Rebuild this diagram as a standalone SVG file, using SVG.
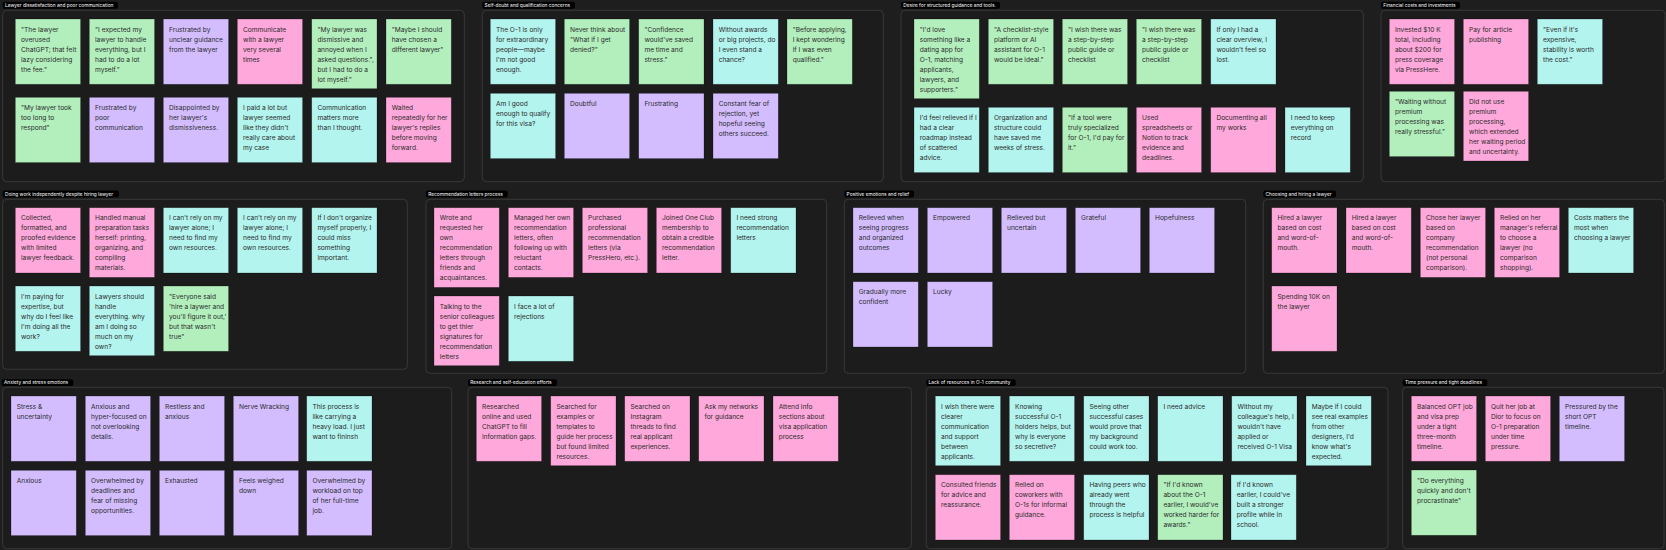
<svg xmlns="http://www.w3.org/2000/svg" width="1666" height="550" viewBox="0 0 1666 550">
<style>
.bg{fill:#1e1e1e}
.fr{fill:#1c1c1c;stroke:#404040;stroke-width:0.8}
.lb{fill:#000}
.lt{font-family:Inter,"Liberation Sans",sans-serif;font-size:4.8px;fill:#fff}
.s{stroke:rgba(0,0,0,0.35);stroke-width:0.7}
.g{fill:#b3efbd}.c{fill:#b3f4ef}.p{fill:#d3bdff}.k{fill:#ffa8db}
.t{font-family:Inter,"Liberation Sans",sans-serif;font-size:6.6px;fill:#2a2a2a}
</style>
<rect class="bg" x="0" y="0" width="1666" height="550"/>
<g id="connectors"/>

<!-- Group 1 -->
<g id="frame-lawyer-dissatisfaction">
<rect class="lb" x="2.7" y="1.7" width="115.3" height="7" rx="2"/>
<text class="lt" x="5" y="6.9">Lawyer dissatisfaction and poor communication</text>
<rect class="fr" x="2.7" y="10.3" width="461.6" height="171.4" rx="4"/>
</g>
<g id="n1a"><rect class="s g" x="15.3" y="19" width="65.3" height="65.3"/><text class="t" x="21" y="31.6"><tspan x="21">"The lawyer</tspan><tspan x="21" dy="10">overused</tspan><tspan x="21" dy="10">ChatGPT; that felt</tspan><tspan x="21" dy="10">lazy considering</tspan><tspan x="21" dy="10">the fee."</tspan></text></g>
<g id="n1b"><rect class="s g" x="89.3" y="19" width="65.3" height="65.3"/><text class="t" x="95" y="31.6"><tspan x="95">"I expected my</tspan><tspan x="95" dy="10">lawyer to handle</tspan><tspan x="95" dy="10">everything, but I</tspan><tspan x="95" dy="10">had to do a lot</tspan><tspan x="95" dy="10">myself."</tspan></text></g>
<g id="n1c"><rect class="s p" x="163.3" y="19" width="65.3" height="65.3"/><text class="t" x="169" y="31.6"><tspan x="169">Frustrated by</tspan><tspan x="169" dy="10">unclear guidance</tspan><tspan x="169" dy="10">from the lawyer</tspan></text></g>
<g id="n1d"><rect class="s k" x="237.3" y="19" width="65.3" height="65.3"/><text class="t" x="243" y="31.6"><tspan x="243">Communicate</tspan><tspan x="243" dy="10">with a lawyer</tspan><tspan x="243" dy="10">very several</tspan><tspan x="243" dy="10">times</tspan></text></g>
<g id="n1e"><rect class="s g" x="311.7" y="19" width="65.3" height="69.7"/><text class="t" x="317.4" y="31.6"><tspan x="317.4">"My lawyer was</tspan><tspan x="317.4" dy="10">dismissive and</tspan><tspan x="317.4" dy="10">annoyed when I</tspan><tspan x="317.4" dy="10">asked questions.",</tspan><tspan x="317.4" dy="10">but I had to do a</tspan><tspan x="317.4" dy="10">lot myself."</tspan></text></g>
<g id="n1f"><rect class="s g" x="386" y="19" width="65.3" height="65.3"/><text class="t" x="391.7" y="31.6"><tspan x="391.7">"Maybe I should</tspan><tspan x="391.7" dy="10">have chosen a</tspan><tspan x="391.7" dy="10">different lawyer"</tspan></text></g>
<g id="n1g"><rect class="s g" x="15.3" y="97.3" width="65.3" height="65.3"/><text class="t" x="21" y="109.9"><tspan x="21">"My lawyer took</tspan><tspan x="21" dy="10">too long to</tspan><tspan x="21" dy="10">respond"</tspan></text></g>
<g id="n1h"><rect class="s p" x="89.3" y="97.3" width="65.3" height="65.3"/><text class="t" x="95" y="109.9"><tspan x="95">Frustrated by</tspan><tspan x="95" dy="10">poor</tspan><tspan x="95" dy="10">communication</tspan></text></g>
<g id="n1i"><rect class="s p" x="163.3" y="97.3" width="65.3" height="65.3"/><text class="t" x="169" y="109.9"><tspan x="169">Disappointed by</tspan><tspan x="169" dy="10">her lawyer's</tspan><tspan x="169" dy="10">dismissiveness.</tspan></text></g>
<g id="n1j"><rect class="s c" x="237.3" y="97.3" width="65.3" height="65.3"/><text class="t" x="243" y="109.9"><tspan x="243">I paid a lot but</tspan><tspan x="243" dy="10">lawyer seemed</tspan><tspan x="243" dy="10">like they didn't</tspan><tspan x="243" dy="10">really care about</tspan><tspan x="243" dy="10">my case</tspan></text></g>
<g id="n1k"><rect class="s c" x="311.7" y="97.3" width="65.3" height="65.3"/><text class="t" x="317.4" y="109.9"><tspan x="317.4">Communication</tspan><tspan x="317.4" dy="10">matters more</tspan><tspan x="317.4" dy="10">than I thought.</tspan></text></g>
<g id="n1l"><rect class="s k" x="386" y="97.3" width="65.3" height="65.3"/><text class="t" x="391.7" y="109.9"><tspan x="391.7">Waited</tspan><tspan x="391.7" dy="10">repeatedly for her</tspan><tspan x="391.7" dy="10">lawyer's replies</tspan><tspan x="391.7" dy="10">before moving</tspan><tspan x="391.7" dy="10">forward.</tspan></text></g>

<!-- Group 2 -->
<g id="frame-self-doubt">
<rect class="lb" x="482.3" y="1.7" width="92.7" height="7" rx="2"/>
<text class="lt" x="484.6" y="6.9">Self-doubt and qualification concerns</text>
<rect class="fr" x="482.3" y="10.3" width="401" height="171.4" rx="4"/>
</g>
<g id="n2a"><rect class="s c" x="490.3" y="19" width="65.3" height="65.3"/><text class="t" x="496" y="31.6"><tspan x="496">The O-1 is only</tspan><tspan x="496" dy="10">for extraordinary</tspan><tspan x="496" dy="10">people—maybe</tspan><tspan x="496" dy="10">I'm not good</tspan><tspan x="496" dy="10">enough.</tspan></text></g>
<g id="n2b"><rect class="s g" x="564.3" y="19" width="65.3" height="65.3"/><text class="t" x="570" y="31.6"><tspan x="570">Never think about</tspan><tspan x="570" dy="10">"What if I get</tspan><tspan x="570" dy="10">denied?"</tspan></text></g>
<g id="n2c"><rect class="s g" x="638.7" y="19" width="65.3" height="65.3"/><text class="t" x="644.4" y="31.6"><tspan x="644.4">"Confidence</tspan><tspan x="644.4" dy="10">would've saved</tspan><tspan x="644.4" dy="10">me time and</tspan><tspan x="644.4" dy="10">stress."</tspan></text></g>
<g id="n2d"><rect class="s c" x="713" y="19" width="65.3" height="65.3"/><text class="t" x="718.7" y="31.6"><tspan x="718.7">Without awards</tspan><tspan x="718.7" dy="10">or big projects, do</tspan><tspan x="718.7" dy="10">I even stand a</tspan><tspan x="718.7" dy="10">chance?</tspan></text></g>
<g id="n2e"><rect class="s g" x="787" y="19" width="65.3" height="65.3"/><text class="t" x="792.7" y="31.6"><tspan x="792.7">"Before applying,</tspan><tspan x="792.7" dy="10">I kept wondering</tspan><tspan x="792.7" dy="10">if I was even</tspan><tspan x="792.7" dy="10">qualified."</tspan></text></g>
<g id="n2f"><rect class="s c" x="490.3" y="93.3" width="65.3" height="65.3"/><text class="t" x="496" y="105.9"><tspan x="496">Am I good</tspan><tspan x="496" dy="10">enough to qualify</tspan><tspan x="496" dy="10">for this visa?</tspan></text></g>
<g id="n2g"><rect class="s p" x="564.3" y="93.3" width="65.3" height="65.3"/><text class="t" x="570" y="105.9">Doubtful</text></g>
<g id="n2h"><rect class="s p" x="638.7" y="93.3" width="65.3" height="65.3"/><text class="t" x="644.4" y="105.9">Frustrating</text></g>
<g id="n2i"><rect class="s p" x="713" y="93.3" width="65.3" height="65.3"/><text class="t" x="718.7" y="105.9"><tspan x="718.7">Constant fear of</tspan><tspan x="718.7" dy="10">rejection, yet</tspan><tspan x="718.7" dy="10">hopeful seeing</tspan><tspan x="718.7" dy="10">others succeed.</tspan></text></g>

<!-- Group 3 -->
<g id="frame-structured-guidance">
<rect class="lb" x="901" y="1.7" width="99" height="7" rx="2"/>
<text class="lt" x="903.3" y="6.9">Desire for structured guidance and tools.</text>
<rect class="fr" x="901" y="10.3" width="462.3" height="171.4" rx="4"/>
</g>
<g id="n3a"><rect class="s g" x="914" y="19" width="65.3" height="79.7"/><text class="t" x="919.7" y="31.6"><tspan x="919.7">"I'd love</tspan><tspan x="919.7" dy="10">something like a</tspan><tspan x="919.7" dy="10">dating app for</tspan><tspan x="919.7" dy="10">O-1, matching</tspan><tspan x="919.7" dy="10">applicants,</tspan><tspan x="919.7" dy="10">lawyers, and</tspan><tspan x="919.7" dy="10">supporters."</tspan></text></g>
<g id="n3b"><rect class="s g" x="988.3" y="19" width="65.3" height="65.3"/><text class="t" x="994" y="31.6"><tspan x="994">"A checklist-style</tspan><tspan x="994" dy="10">platform or AI</tspan><tspan x="994" dy="10">assistant for O-1</tspan><tspan x="994" dy="10">would be ideal."</tspan></text></g>
<g id="n3c"><rect class="s g" x="1062.3" y="19" width="65.3" height="65.3"/><text class="t" x="1068" y="31.6"><tspan x="1068">"I wish there was</tspan><tspan x="1068" dy="10">a step-by-step</tspan><tspan x="1068" dy="10">public guide or</tspan><tspan x="1068" dy="10">checklist</tspan></text></g>
<g id="n3d"><rect class="s g" x="1136.3" y="19" width="65.3" height="65.3"/><text class="t" x="1142" y="31.6"><tspan x="1142">"I wish there was</tspan><tspan x="1142" dy="10">a step-by-step</tspan><tspan x="1142" dy="10">public guide or</tspan><tspan x="1142" dy="10">checklist</tspan></text></g>
<g id="n3e"><rect class="s c" x="1210.7" y="19" width="65.3" height="65.3"/><text class="t" x="1216.4" y="31.6"><tspan x="1216.4">If only I had a</tspan><tspan x="1216.4" dy="10">clear overview, I</tspan><tspan x="1216.4" dy="10">wouldn't feel so</tspan><tspan x="1216.4" dy="10">lost.</tspan></text></g>
<g id="n3f"><rect class="s c" x="914" y="107.3" width="65.3" height="65.3"/><text class="t" x="919.7" y="119.9"><tspan x="919.7">I'd feel relieved if I</tspan><tspan x="919.7" dy="10">had a clear</tspan><tspan x="919.7" dy="10">roadmap instead</tspan><tspan x="919.7" dy="10">of scattered</tspan><tspan x="919.7" dy="10">advice.</tspan></text></g>
<g id="n3g"><rect class="s c" x="988.3" y="107.3" width="65.3" height="65.3"/><text class="t" x="994" y="119.9"><tspan x="994">Organization and</tspan><tspan x="994" dy="10">structure could</tspan><tspan x="994" dy="10">have saved me</tspan><tspan x="994" dy="10">weeks of stress.</tspan></text></g>
<g id="n3h"><rect class="s g" x="1062.3" y="107.3" width="65.3" height="65.3"/><text class="t" x="1068" y="119.9"><tspan x="1068">"If a tool were</tspan><tspan x="1068" dy="10">truly specialized</tspan><tspan x="1068" dy="10">for O-1, I'd pay for</tspan><tspan x="1068" dy="10">it."</tspan></text></g>
<g id="n3i"><rect class="s k" x="1136.3" y="107.3" width="65.3" height="65.3"/><text class="t" x="1142" y="119.9"><tspan x="1142">Used</tspan><tspan x="1142" dy="10">spreadsheets or</tspan><tspan x="1142" dy="10">Notion to track</tspan><tspan x="1142" dy="10">evidence and</tspan><tspan x="1142" dy="10">deadlines.</tspan></text></g>
<g id="n3j"><rect class="s k" x="1210.7" y="107.3" width="65.3" height="65.3"/><text class="t" x="1216.4" y="119.9"><tspan x="1216.4">Documenting all</tspan><tspan x="1216.4" dy="10">my works</tspan></text></g>
<g id="n3k"><rect class="s c" x="1285" y="107.3" width="65.3" height="65.3"/><text class="t" x="1290.7" y="119.9"><tspan x="1290.7">I need to keep</tspan><tspan x="1290.7" dy="10">everything on</tspan><tspan x="1290.7" dy="10">record</tspan></text></g>

<!-- Group 4 -->
<g id="frame-financial">
<rect class="lb" x="1381" y="1.7" width="79" height="7" rx="2"/>
<text class="lt" x="1383.3" y="6.9">Financial costs and investments</text>
<rect class="fr" x="1381" y="10.3" width="284" height="171.4" rx="4"/>
</g>
<g id="n4a"><rect class="s k" x="1389.3" y="19" width="65.3" height="65.3"/><text class="t" x="1395" y="31.6"><tspan x="1395">Invested $10 K</tspan><tspan x="1395" dy="10">total, including</tspan><tspan x="1395" dy="10">about $200 for</tspan><tspan x="1395" dy="10">press coverage</tspan><tspan x="1395" dy="10">via PressHere.</tspan></text></g>
<g id="n4b"><rect class="s k" x="1463.3" y="19" width="65.3" height="65.3"/><text class="t" x="1469" y="31.6"><tspan x="1469">Pay for article</tspan><tspan x="1469" dy="10">publishing</tspan></text></g>
<g id="n4c"><rect class="s c" x="1537.3" y="19" width="65.3" height="65.3"/><text class="t" x="1543" y="31.6"><tspan x="1543">"Even if it's</tspan><tspan x="1543" dy="10">expensive,</tspan><tspan x="1543" dy="10">stability is worth</tspan><tspan x="1543" dy="10">the cost."</tspan></text></g>
<g id="n4d"><rect class="s g" x="1389.3" y="91.3" width="65.3" height="65.3"/><text class="t" x="1395" y="103.9"><tspan x="1395">"Waiting without</tspan><tspan x="1395" dy="10">premium</tspan><tspan x="1395" dy="10">processing was</tspan><tspan x="1395" dy="10">really stressful."</tspan></text></g>
<g id="n4e"><rect class="s k" x="1463.3" y="91.3" width="65.3" height="69.7"/><text class="t" x="1469" y="103.9"><tspan x="1469">Did not use</tspan><tspan x="1469" dy="10">premium</tspan><tspan x="1469" dy="10">processing,</tspan><tspan x="1469" dy="10">which extended</tspan><tspan x="1469" dy="10">her waiting period</tspan><tspan x="1469" dy="10">and uncertainty.</tspan></text></g>

<!-- Group 5 -->
<g id="frame-independent-work">
<rect class="lb" x="2.7" y="190.5" width="116.3" height="7" rx="2"/>
<text class="lt" x="5" y="195.7">Doing work independently despite hiring lawyer</text>
<rect class="fr" x="2.7" y="199.3" width="404.6" height="170" rx="4"/>
</g>
<g id="n5a"><rect class="s k" x="15.3" y="207.7" width="65.3" height="65.3"/><text class="t" x="21" y="220.3"><tspan x="21">Collected,</tspan><tspan x="21" dy="10">formatted, and</tspan><tspan x="21" dy="10">proofed evidence</tspan><tspan x="21" dy="10">with limited</tspan><tspan x="21" dy="10">lawyer feedback.</tspan></text></g>
<g id="n5b"><rect class="s k" x="89.3" y="207.7" width="65.3" height="69.7"/><text class="t" x="95" y="220.3"><tspan x="95">Handled manual</tspan><tspan x="95" dy="10">preparation tasks</tspan><tspan x="95" dy="10">herself: printing,</tspan><tspan x="95" dy="10">organizing, and</tspan><tspan x="95" dy="10">compiling</tspan><tspan x="95" dy="10">materials.</tspan></text></g>
<g id="n5c"><rect class="s c" x="163.3" y="207.7" width="65.3" height="65.3"/><text class="t" x="169" y="220.3"><tspan x="169">I can't rely on my</tspan><tspan x="169" dy="10">lawyer alone; I</tspan><tspan x="169" dy="10">need to find my</tspan><tspan x="169" dy="10">own resources.</tspan></text></g>
<g id="n5d"><rect class="s c" x="237.3" y="207.7" width="65.3" height="65.3"/><text class="t" x="243" y="220.3"><tspan x="243">I can't rely on my</tspan><tspan x="243" dy="10">lawyer alone; I</tspan><tspan x="243" dy="10">need to find my</tspan><tspan x="243" dy="10">own resources.</tspan></text></g>
<g id="n5e"><rect class="s c" x="311.7" y="207.7" width="65.3" height="65.3"/><text class="t" x="317.4" y="220.3"><tspan x="317.4">If I don't organize</tspan><tspan x="317.4" dy="10">myself properly, I</tspan><tspan x="317.4" dy="10">could miss</tspan><tspan x="317.4" dy="10">something</tspan><tspan x="317.4" dy="10">important.</tspan></text></g>
<g id="n5f"><rect class="s c" x="15.3" y="286" width="65.3" height="65.3"/><text class="t" x="21" y="298.6"><tspan x="21">I'm paying for</tspan><tspan x="21" dy="10">expertise, but</tspan><tspan x="21" dy="10">why do I feel like</tspan><tspan x="21" dy="10">I'm doing all the</tspan><tspan x="21" dy="10">work?</tspan></text></g>
<g id="n5g"><rect class="s c" x="89.3" y="286" width="65.3" height="69.7"/><text class="t" x="95" y="298.6"><tspan x="95">Lawyers should</tspan><tspan x="95" dy="10">handle</tspan><tspan x="95" dy="10">everything. why</tspan><tspan x="95" dy="10">am I doing so</tspan><tspan x="95" dy="10">much on my</tspan><tspan x="95" dy="10">own?</tspan></text></g>
<g id="n5h"><rect class="s g" x="163.3" y="286" width="65.3" height="65.3"/><text class="t" x="169" y="298.6"><tspan x="169">"Everyone said</tspan><tspan x="169" dy="10">'hire a laywer and</tspan><tspan x="169" dy="10">you'll figure it out,'</tspan><tspan x="169" dy="10">but that wasn't</tspan><tspan x="169" dy="10">true"</tspan></text></g>

<!-- Group 6 -->
<g id="frame-recommendation-letters">
<rect class="lb" x="426" y="190.5" width="81.7" height="7" rx="2"/>
<text class="lt" x="428.3" y="195.7">Recommendation letters process</text>
<rect class="fr" x="426" y="199.3" width="400.7" height="174" rx="4"/>
</g>
<g id="n6a"><rect class="s k" x="434" y="207.7" width="65.3" height="79.7"/><text class="t" x="439.7" y="220.3"><tspan x="439.7">Wrote and</tspan><tspan x="439.7" dy="10">requested her</tspan><tspan x="439.7" dy="10">own</tspan><tspan x="439.7" dy="10">recommendation</tspan><tspan x="439.7" dy="10">letters through</tspan><tspan x="439.7" dy="10">friends and</tspan><tspan x="439.7" dy="10">acquaintances.</tspan></text></g>
<g id="n6b"><rect class="s k" x="508.3" y="207.7" width="65.3" height="69.7"/><text class="t" x="514" y="220.3"><tspan x="514">Managed her own</tspan><tspan x="514" dy="10">recommendation</tspan><tspan x="514" dy="10">letters, often</tspan><tspan x="514" dy="10">following up with</tspan><tspan x="514" dy="10">reluctant</tspan><tspan x="514" dy="10">contacts.</tspan></text></g>
<g id="n6c"><rect class="s k" x="582.3" y="207.7" width="65.3" height="65.3"/><text class="t" x="588" y="220.3"><tspan x="588">Purchased</tspan><tspan x="588" dy="10">professional</tspan><tspan x="588" dy="10">recommendation</tspan><tspan x="588" dy="10">letters (via</tspan><tspan x="588" dy="10">PressHero, etc.).</tspan></text></g>
<g id="n6d"><rect class="s k" x="656.3" y="207.7" width="65.3" height="65.3"/><text class="t" x="662" y="220.3"><tspan x="662">Joined One Club</tspan><tspan x="662" dy="10">membership to</tspan><tspan x="662" dy="10">obtain a credible</tspan><tspan x="662" dy="10">recommendation</tspan><tspan x="662" dy="10">letter.</tspan></text></g>
<g id="n6e"><rect class="s c" x="730.7" y="207.7" width="65.3" height="65.3"/><text class="t" x="736.4" y="220.3"><tspan x="736.4">I need strong</tspan><tspan x="736.4" dy="10">recommendation</tspan><tspan x="736.4" dy="10">letters</tspan></text></g>
<g id="n6f"><rect class="s k" x="434" y="296" width="65.3" height="69.7"/><text class="t" x="439.7" y="308.6"><tspan x="439.7">Talking to the</tspan><tspan x="439.7" dy="10">senior colleagues</tspan><tspan x="439.7" dy="10">to get thier</tspan><tspan x="439.7" dy="10">signatures for</tspan><tspan x="439.7" dy="10">recommendation</tspan><tspan x="439.7" dy="10">letters</tspan></text></g>
<g id="n6g"><rect class="s c" x="508.3" y="296" width="65.3" height="65.3"/><text class="t" x="514" y="308.6"><tspan x="514">I face a lot of</tspan><tspan x="514" dy="10">rejections</tspan></text></g>

<!-- Group 7 -->
<g id="frame-positive-emotions">
<rect class="lb" x="844.3" y="190.5" width="69.7" height="7" rx="2"/>
<text class="lt" x="846.6" y="195.7">Positive emotions and relief</text>
<rect class="fr" x="844.3" y="199.3" width="401.4" height="174" rx="4"/>
</g>
<g id="n7a"><rect class="s p" x="853" y="207.7" width="65.3" height="65.3"/><text class="t" x="858.7" y="220.3"><tspan x="858.7">Relieved when</tspan><tspan x="858.7" dy="10">seeing progress</tspan><tspan x="858.7" dy="10">and organized</tspan><tspan x="858.7" dy="10">outcomes</tspan></text></g>
<g id="n7b"><rect class="s p" x="927.3" y="207.7" width="65.3" height="65.3"/><text class="t" x="933" y="220.3">Empowered</text></g>
<g id="n7c"><rect class="s p" x="1001.3" y="207.7" width="65.3" height="65.3"/><text class="t" x="1007" y="220.3"><tspan x="1007">Relieved but</tspan><tspan x="1007" dy="10">uncertain</tspan></text></g>
<g id="n7d"><rect class="s p" x="1075.3" y="207.7" width="65.3" height="65.3"/><text class="t" x="1081" y="220.3">Grateful</text></g>
<g id="n7e"><rect class="s p" x="1149.3" y="207.7" width="65.3" height="65.3"/><text class="t" x="1155" y="220.3">Hopefulness</text></g>
<g id="n7f"><rect class="s p" x="853" y="281.7" width="65.3" height="65.3"/><text class="t" x="858.7" y="294.3"><tspan x="858.7">Gradually more</tspan><tspan x="858.7" dy="10">confident</tspan></text></g>
<g id="n7g"><rect class="s p" x="927.3" y="281.7" width="65.3" height="65.3"/><text class="t" x="933" y="294.3">Lucky</text></g>

<!-- Group 8 -->
<g id="frame-choosing-lawyer">
<rect class="lb" x="1263.3" y="190.5" width="72.7" height="7" rx="2"/>
<text class="lt" x="1265.6" y="195.7">Choosing and hiring a lawyer</text>
<rect class="fr" x="1263.3" y="199.3" width="401" height="174" rx="4"/>
</g>
<g id="n8a"><rect class="s k" x="1271.7" y="207.7" width="65.3" height="65.3"/><text class="t" x="1277.4" y="220.3"><tspan x="1277.4">Hired a lawyer</tspan><tspan x="1277.4" dy="10">based on cost</tspan><tspan x="1277.4" dy="10">and word-of-</tspan><tspan x="1277.4" dy="10">mouth.</tspan></text></g>
<g id="n8b"><rect class="s k" x="1346" y="207.7" width="65.3" height="65.3"/><text class="t" x="1351.7" y="220.3"><tspan x="1351.7">Hired a lawyer</tspan><tspan x="1351.7" dy="10">based on cost</tspan><tspan x="1351.7" dy="10">and word-of-</tspan><tspan x="1351.7" dy="10">mouth.</tspan></text></g>
<g id="n8c"><rect class="s k" x="1420.3" y="207.7" width="65.3" height="69.7"/><text class="t" x="1426" y="220.3"><tspan x="1426">Chose her lawyer</tspan><tspan x="1426" dy="10">based on</tspan><tspan x="1426" dy="10">company</tspan><tspan x="1426" dy="10">recommendation</tspan><tspan x="1426" dy="10">(not personal</tspan><tspan x="1426" dy="10">comparison).</tspan></text></g>
<g id="n8d"><rect class="s k" x="1494.3" y="207.7" width="65.3" height="69.7"/><text class="t" x="1500" y="220.3"><tspan x="1500">Relied on her</tspan><tspan x="1500" dy="10">manager's referral</tspan><tspan x="1500" dy="10">to choose a</tspan><tspan x="1500" dy="10">lawyer (no</tspan><tspan x="1500" dy="10">comparison</tspan><tspan x="1500" dy="10">shopping).</tspan></text></g>
<g id="n8e"><rect class="s c" x="1568.3" y="207.7" width="65.3" height="65.3"/><text class="t" x="1574" y="220.3"><tspan x="1574">Costs matters the</tspan><tspan x="1574" dy="10">most when</tspan><tspan x="1574" dy="10">choosing a lawyer</tspan></text></g>
<g id="n8f"><rect class="s k" x="1271.7" y="286" width="65.3" height="65.3"/><text class="t" x="1277.4" y="298.6"><tspan x="1277.4">Spending 10K on</tspan><tspan x="1277.4" dy="10">the lawyer</tspan></text></g>

<!-- Group 9 -->
<g id="frame-anxiety">
<rect class="lb" x="1.7" y="379.3" width="71.6" height="6.6" rx="2"/>
<text class="lt" x="4" y="384.3">Anxiety and stress emotions</text>
<rect class="fr" x="2.7" y="387.3" width="449" height="161.4" rx="4"/>
</g>
<g id="n9a"><rect class="s p" x="11" y="396" width="65.3" height="65.3"/><text class="t" x="16.7" y="408.6"><tspan x="16.7">Stress &amp;</tspan><tspan x="16.7" dy="10">uncertainty</tspan></text></g>
<g id="n9b"><rect class="s p" x="85.3" y="396" width="65.3" height="65.3"/><text class="t" x="91" y="408.6"><tspan x="91">Anxious and</tspan><tspan x="91" dy="10">hyper-focused on</tspan><tspan x="91" dy="10">not overlooking</tspan><tspan x="91" dy="10">details.</tspan></text></g>
<g id="n9c"><rect class="s p" x="159.3" y="396" width="65.3" height="65.3"/><text class="t" x="165" y="408.6"><tspan x="165">Restless and</tspan><tspan x="165" dy="10">anxious</tspan></text></g>
<g id="n9d"><rect class="s p" x="233.3" y="396" width="65.3" height="65.3"/><text class="t" x="239" y="408.6">Nerve Wracking</text></g>
<g id="n9e"><rect class="s c" x="306.7" y="396" width="65.3" height="65.3"/><text class="t" x="312.4" y="408.6"><tspan x="312.4">This process is</tspan><tspan x="312.4" dy="10">like carrying a</tspan><tspan x="312.4" dy="10">heavy load. I just</tspan><tspan x="312.4" dy="10">want to fininsh</tspan></text></g>
<g id="n9f"><rect class="s p" x="11" y="470.3" width="65.3" height="65.3"/><text class="t" x="16.7" y="482.9">Anxious</text></g>
<g id="n9g"><rect class="s p" x="85.3" y="470.3" width="65.3" height="65.3"/><text class="t" x="91" y="482.9"><tspan x="91">Overwhelmed by</tspan><tspan x="91" dy="10">deadlines and</tspan><tspan x="91" dy="10">fear of missing</tspan><tspan x="91" dy="10">opportunities.</tspan></text></g>
<g id="n9h"><rect class="s p" x="159.3" y="470.3" width="65.3" height="65.3"/><text class="t" x="165" y="482.9">Exhausted</text></g>
<g id="n9i"><rect class="s p" x="233.3" y="470.3" width="65.3" height="65.3"/><text class="t" x="239" y="482.9"><tspan x="239">Feels weighed</tspan><tspan x="239" dy="10">down</tspan></text></g>
<g id="n9j"><rect class="s p" x="306.7" y="470.3" width="65.3" height="65.3"/><text class="t" x="312.4" y="482.9"><tspan x="312.4">Overwhelmed by</tspan><tspan x="312.4" dy="10">workload on top</tspan><tspan x="312.4" dy="10">of her full-time</tspan><tspan x="312.4" dy="10">job.</tspan></text></g>

<!-- Group 10 -->
<g id="frame-research">
<rect class="lb" x="468" y="379.3" width="89" height="6.6" rx="2"/>
<text class="lt" x="470.3" y="384.3">Research and self-education efforts</text>
<rect class="fr" x="468" y="387.3" width="443.3" height="161.4" rx="4"/>
</g>
<g id="n10a"><rect class="s k" x="476.3" y="396" width="65.3" height="65.3"/><text class="t" x="482" y="408.6"><tspan x="482">Researched</tspan><tspan x="482" dy="10">online and used</tspan><tspan x="482" dy="10">ChatGPT to fill</tspan><tspan x="482" dy="10">information gaps.</tspan></text></g>
<g id="n10b"><rect class="s k" x="550.7" y="396" width="65.3" height="69.7"/><text class="t" x="556.4" y="408.6"><tspan x="556.4">Searched for</tspan><tspan x="556.4" dy="10">examples or</tspan><tspan x="556.4" dy="10">templates to</tspan><tspan x="556.4" dy="10">guide her process</tspan><tspan x="556.4" dy="10">but found limited</tspan><tspan x="556.4" dy="10">resources.</tspan></text></g>
<g id="n10c"><rect class="s k" x="624.7" y="396" width="65.3" height="65.3"/><text class="t" x="630.4" y="408.6"><tspan x="630.4">Searched on</tspan><tspan x="630.4" dy="10">Instagram</tspan><tspan x="630.4" dy="10">threads to find</tspan><tspan x="630.4" dy="10">real applicant</tspan><tspan x="630.4" dy="10">experiences.</tspan></text></g>
<g id="n10d"><rect class="s k" x="698.7" y="396" width="65.3" height="65.3"/><text class="t" x="704.4" y="408.6"><tspan x="704.4">Ask my networks</tspan><tspan x="704.4" dy="10">for guidance</tspan></text></g>
<g id="n10e"><rect class="s k" x="773" y="396" width="65.3" height="65.3"/><text class="t" x="778.7" y="408.6"><tspan x="778.7">Attend info</tspan><tspan x="778.7" dy="10">sections about</tspan><tspan x="778.7" dy="10">visa application</tspan><tspan x="778.7" dy="10">process</tspan></text></g>

<!-- Group 11 -->
<g id="frame-lack-of-resources">
<rect class="lb" x="926.3" y="379.3" width="89.4" height="6.6" rx="2"/>
<text class="lt" x="928.6" y="384.3">Lack of resources in O-1 community</text>
<rect class="fr" x="926.3" y="387.3" width="461.7" height="161.4" rx="4"/>
</g>
<g id="n11a"><rect class="s c" x="935.3" y="396" width="65.3" height="69.7"/><text class="t" x="941" y="408.6"><tspan x="941">I wish there were</tspan><tspan x="941" dy="10">clearer</tspan><tspan x="941" dy="10">communication</tspan><tspan x="941" dy="10">and support</tspan><tspan x="941" dy="10">between</tspan><tspan x="941" dy="10">applicants.</tspan></text></g>
<g id="n11b"><rect class="s c" x="1009.3" y="396" width="65.3" height="65.3"/><text class="t" x="1015" y="408.6"><tspan x="1015">Knowing</tspan><tspan x="1015" dy="10">successful O-1</tspan><tspan x="1015" dy="10">holders helps, but</tspan><tspan x="1015" dy="10">why is everyone</tspan><tspan x="1015" dy="10">so secretive?</tspan></text></g>
<g id="n11c"><rect class="s c" x="1083.7" y="396" width="65.3" height="65.3"/><text class="t" x="1089.4" y="408.6"><tspan x="1089.4">Seeing other</tspan><tspan x="1089.4" dy="10">successful cases</tspan><tspan x="1089.4" dy="10">would prove that</tspan><tspan x="1089.4" dy="10">my background</tspan><tspan x="1089.4" dy="10">could work too.</tspan></text></g>
<g id="n11d"><rect class="s c" x="1157.7" y="396" width="65.3" height="65.3"/><text class="t" x="1163.4" y="408.6">I need advice</text></g>
<g id="n11e"><rect class="s c" x="1231.7" y="396" width="65.3" height="65.3"/><text class="t" x="1237.4" y="408.6"><tspan x="1237.4">Without my</tspan><tspan x="1237.4" dy="10">colleague's help, I</tspan><tspan x="1237.4" dy="10">wouldn't have</tspan><tspan x="1237.4" dy="10">applied or</tspan><tspan x="1237.4" dy="10">received O-1 Visa</tspan></text></g>
<g id="n11f"><rect class="s c" x="1306" y="396" width="65.3" height="69.7"/><text class="t" x="1311.7" y="408.6"><tspan x="1311.7">Maybe if I could</tspan><tspan x="1311.7" dy="10">see real examples</tspan><tspan x="1311.7" dy="10">from other</tspan><tspan x="1311.7" dy="10">designers, I'd</tspan><tspan x="1311.7" dy="10">know what's</tspan><tspan x="1311.7" dy="10">expected.</tspan></text></g>
<g id="n11g"><rect class="s k" x="935.3" y="474.7" width="65.3" height="65.3"/><text class="t" x="941" y="487.3"><tspan x="941">Consulted friends</tspan><tspan x="941" dy="10">for advice and</tspan><tspan x="941" dy="10">reassurance.</tspan></text></g>
<g id="n11h"><rect class="s k" x="1009.3" y="474.7" width="65.3" height="65.3"/><text class="t" x="1015" y="487.3"><tspan x="1015">Relied on</tspan><tspan x="1015" dy="10">coworkers with</tspan><tspan x="1015" dy="10">O-1s for informal</tspan><tspan x="1015" dy="10">guidance.</tspan></text></g>
<g id="n11i"><rect class="s c" x="1083.7" y="474.7" width="65.3" height="65.3"/><text class="t" x="1089.4" y="487.3"><tspan x="1089.4">Having peers who</tspan><tspan x="1089.4" dy="10">already went</tspan><tspan x="1089.4" dy="10">through the</tspan><tspan x="1089.4" dy="10">process is helpful</tspan></text></g>
<g id="n11j"><rect class="s g" x="1157.7" y="474.7" width="65.3" height="65.3"/><text class="t" x="1163.4" y="487.3"><tspan x="1163.4">"If I'd known</tspan><tspan x="1163.4" dy="10">about the O-1</tspan><tspan x="1163.4" dy="10">earlier, I would've</tspan><tspan x="1163.4" dy="10">worked harder for</tspan><tspan x="1163.4" dy="10">awards."</tspan></text></g>
<g id="n11k"><rect class="s c" x="1231" y="474.7" width="65.3" height="65.3"/><text class="t" x="1236.7" y="487.3"><tspan x="1236.7">If I'd known</tspan><tspan x="1236.7" dy="10">earlier, I could've</tspan><tspan x="1236.7" dy="10">built a stronger</tspan><tspan x="1236.7" dy="10">profile while in</tspan><tspan x="1236.7" dy="10">school.</tspan></text></g>

<!-- Group 12 -->
<g id="frame-time-pressure">
<rect class="lb" x="1402.7" y="379.3" width="84.6" height="6.6" rx="2"/>
<text class="lt" x="1405" y="384.3">Time pressure and tight deadlines</text>
<rect class="fr" x="1402.7" y="387.3" width="261.3" height="161.4" rx="4"/>
</g>
<g id="n12a"><rect class="s k" x="1411.3" y="396" width="65.3" height="65.3"/><text class="t" x="1417" y="408.6"><tspan x="1417">Balanced OPT job</tspan><tspan x="1417" dy="10">and visa prep</tspan><tspan x="1417" dy="10">under a tight</tspan><tspan x="1417" dy="10">three-month</tspan><tspan x="1417" dy="10">timeline.</tspan></text></g>
<g id="n12b"><rect class="s k" x="1485.3" y="396" width="65.3" height="65.3"/><text class="t" x="1491" y="408.6"><tspan x="1491">Quit her job at</tspan><tspan x="1491" dy="10">Dior to focus on</tspan><tspan x="1491" dy="10">O-1 preparation</tspan><tspan x="1491" dy="10">under time</tspan><tspan x="1491" dy="10">pressure.</tspan></text></g>
<g id="n12c"><rect class="s p" x="1559.3" y="396" width="65.3" height="65.3"/><text class="t" x="1565" y="408.6"><tspan x="1565">Pressured by the</tspan><tspan x="1565" dy="10">short OPT</tspan><tspan x="1565" dy="10">timeline.</tspan></text></g>
<g id="n12d"><rect class="s g" x="1411.3" y="470" width="65.3" height="65.3"/><text class="t" x="1417" y="482.6"><tspan x="1417">"Do everything</tspan><tspan x="1417" dy="10">quickly and don't</tspan><tspan x="1417" dy="10">procrastinate"</tspan></text></g>
</svg>
